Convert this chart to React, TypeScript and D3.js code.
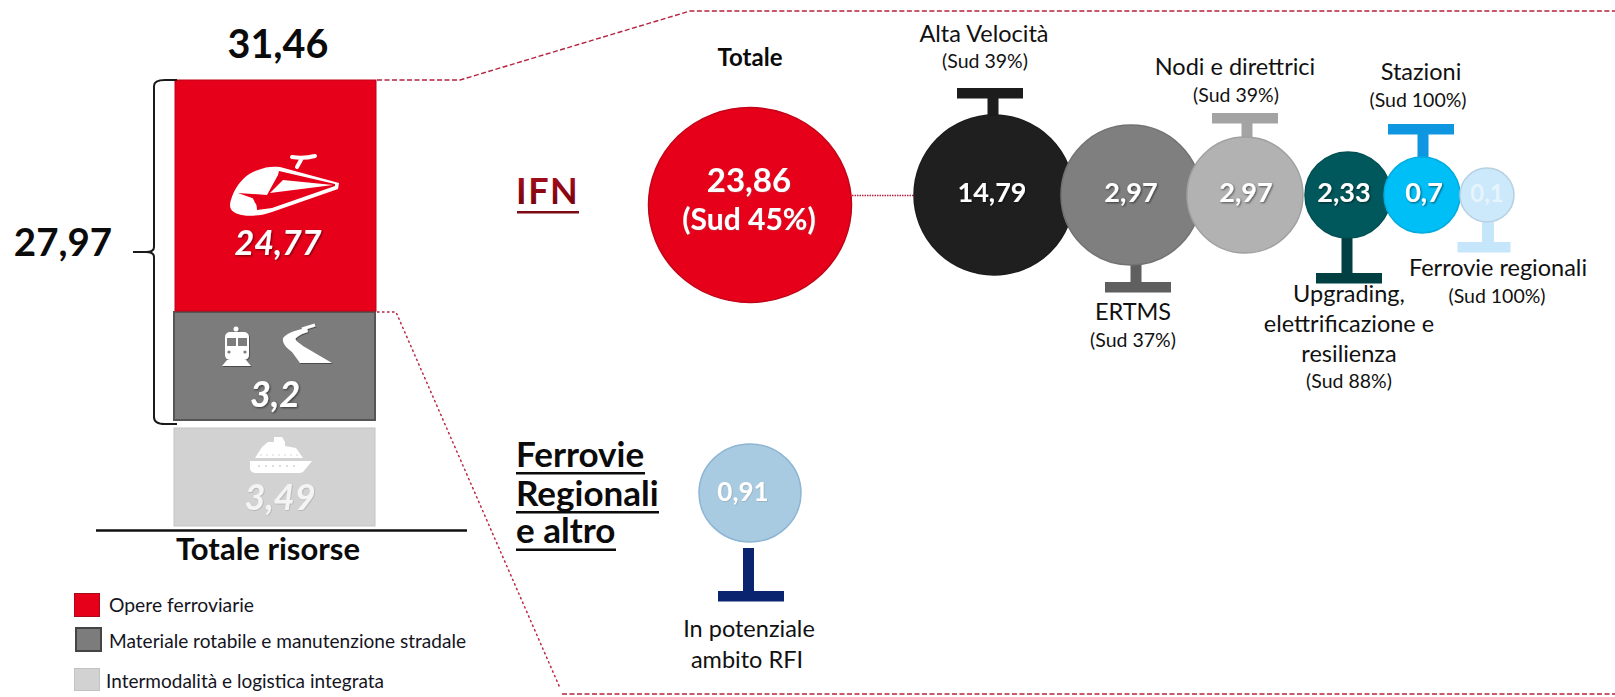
import React from "react";
import * as d3 from "d3";

// ---- data ----
const stackLabels = ["Intermodalità e logistica integrata", "Materiale rotabile e manutenzione stradale", "Opere ferroviarie"];
const stackValues = [3.49, 3.2, 24.77];
const stackText = ["3,49", "3,2", "24,77"];
const stackTotal = "31,46";
const bracketTotal = "27,97";

const ifnCategories = ["Alta Velocità", "ERTMS", "Nodi e direttrici", "Upgrading", "Stazioni", "Ferrovie regionali"];
const ifnValues = ["14,79", "2,97", "2,97", "2,33", "0,7", "0,1"];
const ifnSud = ["(Sud 39%)", "(Sud 37%)", "(Sud 39%)", "(Sud 88%)", "(Sud 100%)", "(Sud 100%)"];
const ifnLabelLines = [["Alta Velocità"], ["ERTMS"], ["Nodi e direttrici"], ["Upgrading,", "elettrificazione e", "resilienza"], ["Stazioni"], ["Ferrovie regionali"]];

// ---- layout ----
const FONT = "Lato, 'Open Sans', sans-serif";
const stackFill = ["#d2d2d2", "#7c7c7c", "#e60019"];
const stackEdge = ["#c4c4c4", "#555555", "#c00016"];
const stackX = [174, 174, 175];
const stackTextX = [280, 275, 278];
const stackTextY = [510, 407, 255];
const stackTextSize = [36, 36, 34];
const stackTextFill = ["#f4f4f4", "#ffffff", "#ffffff"];

const bubbleFill = ["#1f1f1f", "#7f7f7f", "#b2b2b2", "#00585c", "#00bff7", "#cce8fb"];
const markerFill = ["#1c1c1c", "#5f5f5f", "#a3a3a3", "#003f42", "#0f96e0", "#c6e6fb"];
const bubbleCx = [994, 1131, 1245, 1348, 1422, 1487];
const bubbleR = [80, 70, 58, 43, 38, 27];
const markerX = [990, 1138, 1245, 1349, 1421, 1484];
const markerStemX = [993, 1136, 1247, 1347, 1423, 1488];
const markerBarY = [88, 282, 113, 273, 124, 242];
const markerBelow = [false, true, false, true, false, true];
const valueX = [992, 1131, 1246, 1344, 1424, 1487];
const valueSize = [27, 27, 27, 27, 27, 24];
const labelX = [984, 1133, 1235, 1349, 1421, 1498];
const labelY = [42, 320, 75, 302, 80, 276];
const sudX = [985, 1133, 1236, 1349, 1418, 1497];
const sudY = [68, 347, 102, 388, 107, 303];

const y = d3
  .scaleLinear()
  .domain([0, stackValues[0], stackValues[0] + stackValues[1], d3.sum(stackValues)])
  .range([527, 420, 312, 80]);

const cx = d3.scaleOrdinal<string, number>().domain(ifnCategories).range(bubbleCx);
const rScale = d3.scaleOrdinal<string, number>().domain(ifnCategories).range(bubbleR);

const dashColor = "#b5223f";

const bracePath = (() => {
  const p = d3.path();
  p.moveTo(177, 80);
  p.lineTo(165, 80);
  p.quadraticCurveTo(154, 80, 154, 86);
  p.lineTo(154, 247);
  p.quadraticCurveTo(154, 252, 146, 252);
  p.lineTo(133, 252);
  p.lineTo(146, 252);
  p.quadraticCurveTo(154, 252, 154, 257);
  p.lineTo(154, 417);
  p.quadraticCurveTo(154, 424, 165, 424);
  p.lineTo(177, 424);
  return p.toString();
})();

const line = d3.line();

function Marker({ i }: { i: number }) {
  const name = ifnCategories[i];
  const r = rScale(name);
  const sx = markerStemX[i];
  const barY = markerBarY[i];
  const from = markerBelow[i] ? 195 + r - 2 : 195 - r + 2;
  const w = i === 5 ? 53 : 66;
  const stem = i === 5 ? 12 : 11;
  return (
    <g fill={markerFill[i]}>
      <rect x={markerX[i] - w / 2} y={barY} width={w} height={10.5} />
      <rect
        x={sx - stem / 2}
        y={markerBelow[i] ? from : barY + 5}
        width={stem}
        height={markerBelow[i] ? barY + 5 - from : from - barY - 5}
      />
    </g>
  );
}

export default function App() {
  return (
    <svg
      width={1615}
      height={697}
      viewBox="0 0 1615 697"
      style={{ position: "absolute", left: 0, top: 0, background: "#fff", fontFamily: FONT }}
    >
      <defs>
        <filter id="ts" x="-20%" y="-20%" width="140%" height="140%">
          <feDropShadow dx="1" dy="1" stdDeviation="0.8" floodColor="#000" floodOpacity="0.55" />
        </filter>
        <filter id="tsl" x="-20%" y="-20%" width="140%" height="140%">
          <feDropShadow dx="0.6" dy="0.6" stdDeviation="0.6" floodColor="#777" floodOpacity="0.45" />
        </filter>
        <filter id="icon" x="-20%" y="-20%" width="140%" height="140%">
          <feDropShadow dx="0.8" dy="1" stdDeviation="0.7" floodColor="#000" floodOpacity="0.4" />
        </filter>
        <linearGradient id="ifnG" x1="0" y1="0" x2="0" y2="1">
          <stop offset="0" stopColor="#b01020" />
          <stop offset="1" stopColor="#6d0008" />
        </linearGradient>
      </defs>

      {/* dashed connectors */}
      <g fill="none" stroke={dashColor} strokeWidth={1.4}>
        <path d={line([[377, 80], [460, 80], [690, 11], [1615, 11]]) ?? ""} strokeDasharray="5 2.5" />
        <path d={line([[377, 312], [396, 312], [560, 688]]) ?? ""} strokeDasharray="2.5 2.5" />
        <path d={line([[562, 694], [1615, 694]]) ?? ""} strokeDasharray="5 2.5" />
        <path d={line([[852, 195.5], [915, 195.5]]) ?? ""} strokeDasharray="1.5 1" />
      </g>

      {/* stacked column */}
      {stackValues.map((v, i) => {
        const base = d3.sum(stackValues.slice(0, i));
        const top = y(base + v);
        const bottom = y(base);
        const yBottom = i === 1 ? bottom : bottom - 1;
        const yTop = i === 0 ? top + 8 : top;
        return (
          <rect
            key={stackLabels[i]}
            x={stackX[i]}
            y={yTop}
            width={201}
            height={yBottom - yTop}
            fill={stackFill[i]}
            stroke={stackEdge[i]}
            strokeWidth={i === 1 ? 2 : 1}
          />
        );
      })}

      {/* high-speed train icon */}
      <g>
        <path
          d="M230,205 C231,195 240,175 258,170 C265,167 272,166 280,167 L339,183 L338,189 L272,212 C262,216 245,217 238,214 C232,212 230,209 230,205Z"
          fill="#fff"
        />
        <path
          d="M279,171 L335,184 L335,186 L272,208 L257,210 C257,206 256,203 255,203 C254,200 253,198 252,198 L238,193 L267,195 L278,175 Z"
          fill="#e60019"
        />
        <path d="M270,193 L283,180 L333,185 Z" fill="#fff" />
        <path d="M297,167 L302,158 M292,157 Q303,159 315,156" stroke="#fff" strokeWidth={4} strokeLinecap="round" fill="none" />
      </g>

      {/* regional train icon */}
      <g fill="#fff" filter="url(#icon)">
        <circle cx={236} cy={329} r={2.5} />
        <rect x={225} y={332} width={24} height={28} rx={5} />
        <path d="M227,360 H246 L251,366 H222Z" />
        <rect x={227} y={338} width={9} height={8} fill="#7c7c7c" />
        <rect x={238} y={338} width={9} height={8} fill="#7c7c7c" />
        <circle cx={229} cy={352} r={1.6} fill="#7c7c7c" />
        <circle cx={245} cy={352} r={1.6} fill="#7c7c7c" />
      </g>

      {/* track icon */}
      <g fill="#fff" filter="url(#icon)">
        <path d="M307,328 C297,330 288,332 283,338 C282,344 287,348 292,352 L300,363 L332,363 L303,346 C298,342 294,340 296,338 C299,335 304,333 308,332 Z" />
        <path d="M302,329 L315,325" stroke="#fff" strokeWidth={3} />
      </g>

      {/* ship icon */}
      <g fill="#fff">
        <path d="M250,461 H312 L303,472 Q302,473 298,473 H256 Q251,473 250,469Z" />
        <path d="M255,458 L262,447 L268,442 H274 V437 H282 L285,442 V446 L296,448 L303,458Z" />
        <g fill="#d2d2d2">
          {d3.range(6).map((k) => (
            <circle key={k} cx={259 + k * 7} cy={466} r={1} />
          ))}
          {d3.range(7).map((k) => (
            <circle key={k} cx={261 + k * 6} cy={455} r={0.8} />
          ))}
        </g>
      </g>

      {/* stack labels */}
      {stackText.map((t, i) => (
        <text
          key={t}
          x={stackTextX[i]}
          y={stackTextY[i]}
          textAnchor="middle"
          fontSize={stackTextSize[i]}
          fontWeight={700}
          fontStyle="italic"
          fill={stackTextFill[i]}
          filter={i === 0 ? "url(#tsl)" : "url(#ts)"}
        >
          {t}
        </text>
      ))}

      <text x={278} y={58} textAnchor="middle" fontSize={39.5} fontWeight={700} fill="#0b0b0b">
        {stackTotal}
      </text>
      <text x={63} y={256} textAnchor="middle" fontSize={38.5} fontWeight={700} fill="#0b0b0b">
        {bracketTotal}
      </text>
      <path d={bracePath} fill="none" stroke="#1a1a1a" strokeWidth={2} />

      <line x1={96} x2={467} y1={530.5} y2={530.5} stroke="#111" strokeWidth={2.5} />
      <text x={268} y={560} textAnchor="middle" fontSize={31} fontWeight={700} fill="#0b0b0b">
        Totale risorse
      </text>

      {/* legend */}
      <g fontSize={19} fill="#14141e">
        <rect x={74.5} y={593.5} width={25} height={23} fill="#e60019" stroke="#a80a1a" />
        <text x={109} y={612} textLength={145} lengthAdjust="spacingAndGlyphs">{stackLabels[2]}</text>
        <rect x={76} y={628} width={25} height={23} fill="#7c7c7c" stroke="#444" strokeWidth={2} />
        <text x={109} y={648} textLength={357} lengthAdjust="spacingAndGlyphs">{stackLabels[1]}</text>
        <rect x={74.5} y={668.5} width={25} height={22} fill="#d2d2d2" stroke="#c2c2c2" />
        <text x={106} y={688} textLength={278} lengthAdjust="spacingAndGlyphs">{stackLabels[0]}</text>
      </g>

      {/* IFN heading */}
      <text x={516} y={204} fontSize={36} fontWeight={700} letterSpacing={1.5} fill="url(#ifnG)">
        IFN
      </text>
      <rect x={517} y={211} width={62} height={2.5} fill="#7d0b14" />

      {/* Ferrovie heading */}
      <g fontSize={35} fontWeight={700} fill="#0b0b0b">
        <text x={516} y={467}>Ferrovie</text>
        <rect x={516} y={472} width={129} height={2.5} />
        <text x={516} y={506}>Regionali</text>
        <rect x={516} y={511} width={143} height={2.5} />
        <text x={516} y={543}>e altro</text>
        <rect x={516} y={548.5} width={100} height={2.5} />
      </g>

      {/* Totale bubble */}
      <text x={750} y={66} textAnchor="middle" fontSize={24} fontWeight={700} fill="#0b0b0b">
        Totale
      </text>
      <ellipse cx={750} cy={205} rx={101.5} ry={97.5} fill="#e60019" stroke="#c20418" strokeWidth={1.5} />
      <text x={749} y={192} textAnchor="middle" fontSize={33} fontWeight={700} fill="#fff" filter="url(#tsl)">
        23,86
      </text>
      <text x={749} y={230} textAnchor="middle" fontSize={30} fontWeight={700} fill="#fff" filter="url(#tsl)">
        (Sud 45%)
      </text>

      {/* IFN bubbles */}
      {ifnCategories.map((c, i) => (
        <g key={c}>
          <Marker i={i} />
          <circle cx={cx(c)} cy={195} r={rScale(c)} fill={bubbleFill[i]} stroke={d3.color(bubbleFill[i])?.darker(0.3).formatHex()} strokeWidth={1.5} />
        </g>
      ))}
      {ifnCategories.map((c, i) => (
        <text
          key={c}
          x={valueX[i]}
          y={202}
          textAnchor="middle"
          fontSize={valueSize[i]}
          fontWeight={700}
          fill={i === 5 ? "#e6f4fd" : "#fff"}
          filter={i === 5 ? undefined : "url(#ts)"}
        >
          {ifnValues[i]}
        </text>
      ))}
      {ifnCategories.map((c, i) => (
        <g key={c} textAnchor="middle" fill="#111">
          {ifnLabelLines[i].map((l, k) => (
            <text key={l} x={labelX[i]} y={labelY[i] + k * 30} fontSize={23.5}>
              {l}
            </text>
          ))}
          <text x={sudX[i]} y={sudY[i]} fontSize={19.5}>
            {ifnSud[i]}
          </text>
        </g>
      ))}

      {/* Ferrovie regionali bubble */}
      <ellipse cx={750} cy={493} rx={51} ry={49} fill="#a9cbe2" stroke="#8db5d4" strokeWidth={1.5} />
      <text x={743} y={501} textAnchor="middle" fontSize={26} fontWeight={700} fill="#fff" filter="url(#tsl)">
        0,91
      </text>
      <rect x={743} y={548} width={11} height={46} fill="#0a2470" />
      <rect x={718} y={591} width={66} height={10.5} fill="#0a2470" />
      <g textAnchor="middle" fontSize={23.5} fill="#111">
        <text x={749} y={637}>In potenziale</text>
        <text x={747} y={668}>ambito RFI</text>
      </g>
    </svg>
  );
}
